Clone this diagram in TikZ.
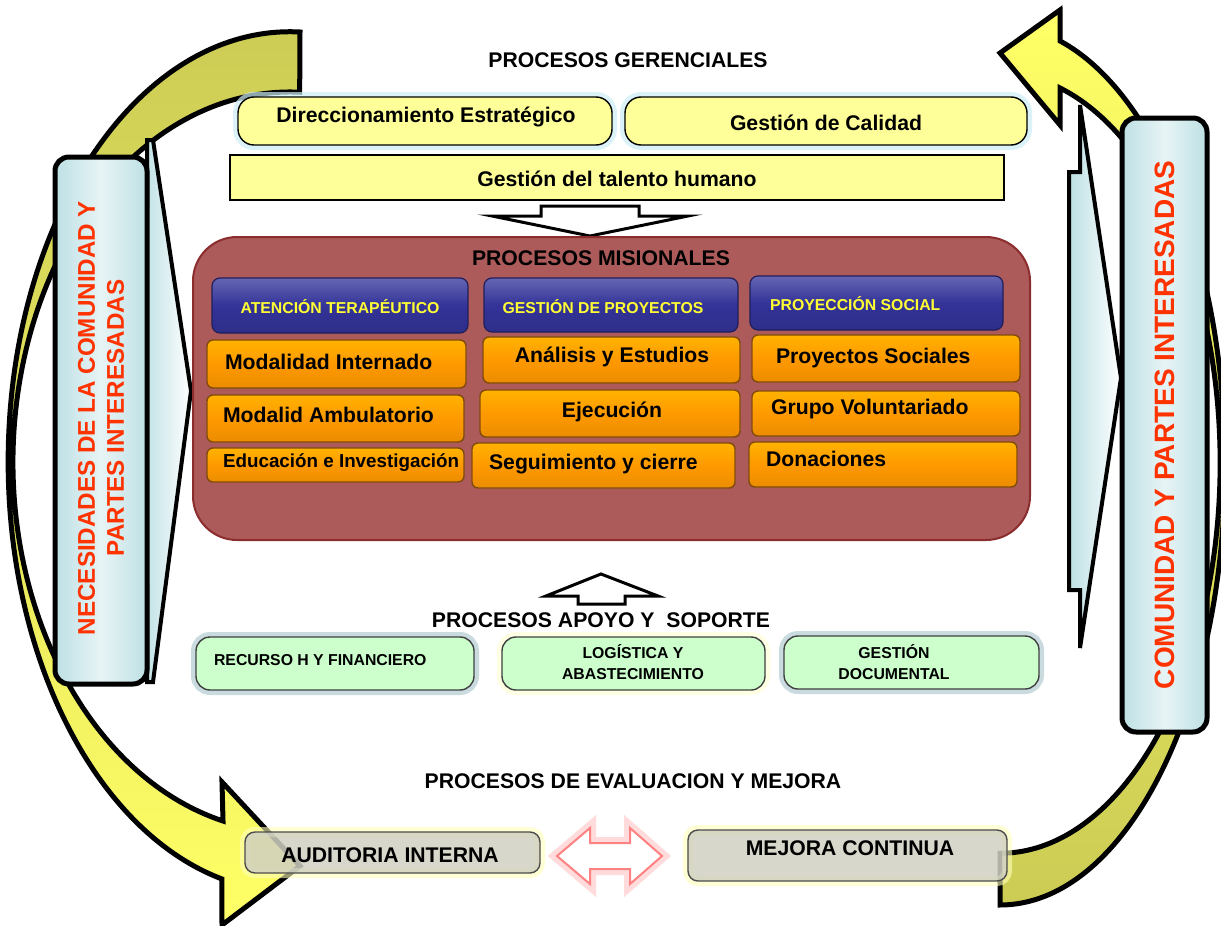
\documentclass[tikz,border=0pt]{standalone}
\usepackage{fontspec}
\setmainfont{Liberation Sans}

\definecolor{arcolive}{RGB}{204,204,85}
\definecolor{arcyellow}{RGB}{255,255,102}
\definecolor{panelblue}{RGB}{189,224,228}
\definecolor{sidered}{RGB}{255,51,0}
\definecolor{boxyellow}{RGB}{255,255,153}
\definecolor{glowcyan}{RGB}{205,238,246}
\definecolor{misred}{RGB}{172,90,90}
\definecolor{misborder}{RGB}{140,45,45}
\definecolor{hdrblue}{RGB}{51,51,153}
\definecolor{hdryellow}{RGB}{255,255,51}
\definecolor{boxorange}{RGB}{255,153,0}
\definecolor{orangeedge}{RGB}{130,75,10}
\definecolor{boxgreen}{RGB}{204,255,204}
\definecolor{glowteal}{RGB}{120,165,175}
\definecolor{glowyellow}{RGB}{255,255,185}
\definecolor{boxgray}{RGB}{208,208,194}
\definecolor{arrowpink}{RGB}{255,130,130}

\tikzset{
  arcband/.style={draw=black, line width=2.5pt},
  sidepanel/.style={draw=black, line width=2.5pt, rounded corners=7pt,
    left color=panelblue, right color=panelblue, middle color=panelblue!35!white},
  chevron/.style={draw=black, line width=2pt, left color=panelblue, right color=white},
  sidetext/.style={text=sidered, font=\fontsize{12.1}{14.5}\selectfont\bfseries, align=center},
  sectitle/.style={font=\fontsize{10.6}{12}\selectfont\bfseries},
  boxtext/.style={font=\fontsize{10.6}{12}\selectfont\bfseries},
  smalltext/.style={font=\fontsize{7.9}{10.5}\selectfont\bfseries, align=center},
  gerbox/.style={draw=black, line width=0.7pt, fill=boxyellow, rounded corners=8pt,
    preaction={draw=glowcyan, line width=5pt, draw opacity=0.7}},
  talbox/.style={draw=black, line width=0.7pt, fill=boxyellow},
  hollowarrow/.style={draw=black, line width=1.5pt, fill=white},
  misbox/.style={draw=misborder, line width=1pt, fill=misred, rounded corners=22pt},
  hdrbox/.style={draw=hdrblue!60!black, line width=0.6pt, rounded corners=4pt,
    top color=hdrblue!75!white, bottom color=hdrblue!90!black, middle color=hdrblue},
  hdrtext/.style={text=hdryellow, font=\fontsize{7.9}{10}\selectfont\bfseries},
  orgbox/.style={draw=orangeedge, line width=0.7pt, rounded corners=3pt,
    top color=boxorange!75!yellow, bottom color=boxorange!92!black, middle color=boxorange},
  apobox/.style={draw=black!75, line width=0.7pt, fill=boxgreen, rounded corners=7pt,
    preaction={draw=#1, line width=5pt, draw opacity=0.4}},
  evbox/.style={draw=black!70, line width=0.7pt, fill=boxgray, fill opacity=0.85,
    rounded corners=5pt, preaction={draw=glowyellow, line width=5pt, draw opacity=0.6}},
  dblarrow/.style={draw=arrowpink, line width=1pt, fill=white,
    preaction={draw=arrowpink!70, line width=6pt, draw opacity=0.4}}
}

\begin{document}
\begin{tikzpicture}[x=0.5pt, y=-0.5pt]
\useasboundingbox[fill=white] (0,0) rectangle (1221,926);

% Left curved arrow (needs into processes)
\draw[arcband, top color=arcolive, bottom color=arcyellow]
  (300,32) arc[start angle=-88, end angle=-256, x radius=282, y radius=430]
  -- (222,925) -- (300,866) -- (222,782) -- (223,821)
  arc[start angle=-256, end angle=-88, x radius=277, y radius=370] -- cycle;

% Right curved arrow (back to the top)
\draw[arcband, top color=arcyellow, bottom color=arcolive]
  (1000,905) arc[start angle=90, end angle=-74.5, x radius=225, y radius=440]
  -- (1060,10) -- (1000,53) -- (1060,125) -- (1060,88)
  arc[start angle=-74.2, end angle=90, x radius=220, y radius=390] -- cycle;

% Chevrons beside the side panels
\draw[chevron] (147,140) -- (153,140) -- (191,391) -- (153,682) -- (147,682)
  -- (147,585) -- (142,585) -- (142,205) -- (147,205) -- cycle;
\draw[chevron] (1080,105) -- (1121,378) -- (1080,648) -- (1080,590)
  -- (1069,590) -- (1069,172) -- (1080,172) -- cycle;

% Side panels
\draw[sidepanel] (55,157) rectangle (147,684);
\node[sidetext, rotate=90] (necText) at (101,418) {NECESIDADES DE LA COMUNIDAD Y\\PARTES INTERESADAS};
\draw[sidepanel] (1122,118) rectangle (1207,732);
\node[sidetext, font=\fontsize{14}{16}\selectfont\bfseries, rotate=90] (comText) at (1165,425) {COMUNIDAD Y PARTES INTERESADAS};

% Procesos gerenciales
\node[sectitle] (gerTitle) at (628,60) {PROCESOS GERENCIALES};
\draw[gerbox] (238,97) rectangle (612,145);
\node[boxtext] (dirEst) at (426,117) {Direccionamiento Estratégico};
\draw[gerbox] (625,97) rectangle (1027,145);
\node[boxtext] (gesCal) at (826,123) {Gestión de Calidad};
\draw[talbox] (230,155) rectangle (1004,200);
\node[boxtext] (gesTal) at (617,179) {Gestión del talento humano};

% Arrow down
\draw[hollowarrow] (541,206) -- (639,206) -- (639,216) -- (688,216) -- (590,236)
  -- (492,216) -- (541,216) -- cycle;

% Procesos misionales
\draw[misbox] (193,237) rectangle (1030,540);
\node[sectitle] (misTitle) at (601,258) {PROCESOS MISIONALES};

\draw[hdrbox] (212,278) rectangle (468,333);
\node[hdrtext] (atTer) at (340,307) {ATENCIÓN TERAPÉUTICO};
\draw[hdrbox] (484,278) rectangle (738,332);
\node[hdrtext] (gesPro) at (603,307) {GESTIÓN DE PROYECTOS};
\draw[hdrbox] (750,276) rectangle (1003,330);
\node[hdrtext, anchor=west] (proSoc) at (763,304) {PROYECCIÓN SOCIAL};

% column 1
\draw[orgbox] (207,340) rectangle (466,388);
\node[boxtext, anchor=west] (modInt) at (218,362) {Modalidad Internado};
\draw[orgbox] (207,395) rectangle (464,442);
\node[boxtext, anchor=west] (modAmb) at (216,415) {Modalid Ambulatorio};
\draw[orgbox] (207,448) rectangle (464,482);
\node[boxtext, font=\fontsize{9.4}{11}\selectfont\bfseries, anchor=west] (eduInv) at (216,463) {Educación e Investigación};
% column 2
\draw[orgbox] (483,337) rectangle (740,383);
\node[boxtext] (anaEst) at (612,357) {Análisis y Estudios};
\draw[orgbox] (480,390) rectangle (740,437);
\node[boxtext] (ejec) at (612,412) {Ejecución};
\draw[orgbox] (472,443) rectangle (735,488);
\node[boxtext, anchor=west] (segCie) at (482,464) {Seguimiento y cierre};
% column 3
\draw[orgbox] (752,335) rectangle (1020,382);
\node[boxtext, anchor=west] (proyS) at (769,358) {Proyectos Sociales};
\draw[orgbox] (752,391) rectangle (1020,436);
\node[boxtext, anchor=west] (gruVol) at (764,409) {Grupo Voluntariado};
\draw[orgbox] (749,442) rectangle (1017,487);
\node[boxtext, anchor=west] (donac) at (759,459) {Donaciones};

% Arrow up
\draw[hollowarrow] (578,604) -- (625,604) -- (625,596) -- (658,596) -- (601,574)
  -- (546,596) -- (578,596) -- cycle;

% Procesos de apoyo
\node[sectitle] (apoTitle) at (601,620) {PROCESOS APOYO Y \ SOPORTE};
\draw[apobox=glowteal] (196,637) rectangle (474,690);
\node[smalltext, anchor=west] (recH) at (207,660) {RECURSO H Y FINANCIERO};
\draw[apobox=glowyellow] (502,637) rectangle (765,690);
\node[smalltext] (logAb) at (633,662) {LOGÍSTICA Y\\ABASTECIMIENTO};
\draw[apobox=glowteal] (784,636) rectangle (1039,689);
\node[smalltext] (gesDoc) at (894,662) {GESTIÓN\\DOCUMENTAL};

% Evaluacion y mejora
\node[sectitle] (evTitle) at (633,781) {PROCESOS DE EVALUACION Y MEJORA};
\draw[evbox] (245,832) rectangle (540,873);
\node[boxtext] (audInt) at (390,855) {AUDITORIA INTERNA};
\draw[evbox] (688,830) rectangle (1007,881);
\node[boxtext] (mejCon) at (850,848) {MEJORA CONTINUA};

\draw[dblarrow] (557,856) -- (590,828) -- (590,843) -- (630,843) -- (630,828)
  -- (662,856) -- (630,884) -- (630,869) -- (590,869) -- (590,884) -- cycle;

\end{tikzpicture}
\end{document}
